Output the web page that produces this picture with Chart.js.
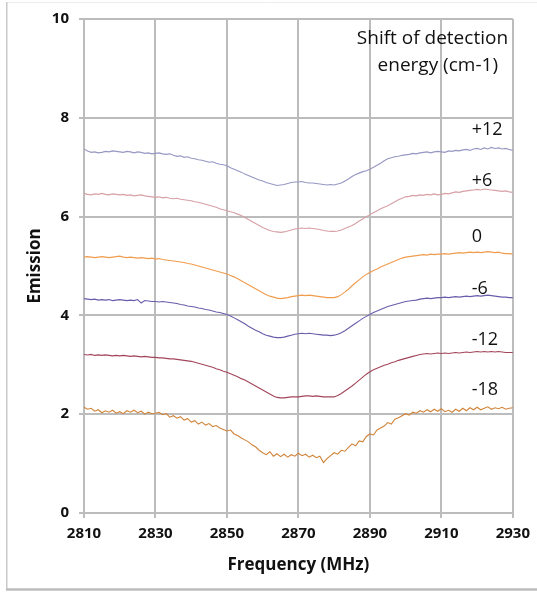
<!DOCTYPE html>
<html>
<head>
<meta charset="utf-8">
<script src="https://cdn.jsdelivr.net/npm/chart.js@4/dist/chart.umd.min.js"></script>
<style>
  html, body { margin: 0; padding: 0; background: #ffffff; }
  canvas { display: block; }
</style>
</head>
<body>
<canvas id="odmr" width="537" height="592"></canvas>
<script>
// Emission spectra vs microwave frequency, one trace per detection-energy shift.
const FREQ_START = 2810;   // MHz, sampled every 1 MHz up to 2930
const FREQ_END = 2930;

const X_TICKS = [2810, 2830, 2850, 2870, 2890, 2910, 2930];
const Y_TICKS = [0, 2, 4, 6, 8, 10];

const SHIFT_LABELS = ['+12', '+6', '0', '-6', '-12', '-18'];

const emissionP12 = [
  7.37, 7.33, 7.30, 7.31, 7.29, 7.30, 7.32, 7.31, 7.33, 7.32,
  7.31, 7.30, 7.32, 7.31, 7.29, 7.31, 7.30, 7.28, 7.29, 7.27,
  7.28, 7.29, 7.27, 7.26, 7.27, 7.24, 7.22, 7.23, 7.20, 7.21,
  7.18, 7.17, 7.15, 7.14, 7.12, 7.10, 7.11, 7.08, 7.06, 7.05,
  7.03, 6.99, 6.96, 6.93, 6.90, 6.86, 6.83, 6.80, 6.77, 6.74,
  6.72, 6.69, 6.67, 6.65, 6.63, 6.64, 6.65, 6.67, 6.69, 6.70,
  6.70, 6.71, 6.69, 6.68, 6.68, 6.67, 6.66, 6.65, 6.64, 6.65,
  6.64, 6.66, 6.68, 6.72, 6.76, 6.81, 6.85, 6.88, 6.91, 6.93,
  6.96, 7.00, 7.04, 7.08, 7.13, 7.17, 7.19, 7.21, 7.22, 7.24,
  7.25, 7.26, 7.28, 7.27, 7.29, 7.30, 7.31, 7.29, 7.31, 7.32,
  7.31, 7.30, 7.33, 7.32, 7.34, 7.33, 7.35, 7.36, 7.34, 7.37,
  7.38, 7.36, 7.39, 7.37, 7.40, 7.38, 7.39, 7.37, 7.38, 7.36,
  7.34
];

const emissionP6 = [
  6.47, 6.45, 6.44, 6.46, 6.45, 6.47, 6.45, 6.44, 6.46, 6.45,
  6.44, 6.45, 6.43, 6.44, 6.42, 6.43, 6.44, 6.42, 6.41, 6.40,
  6.39, 6.40, 6.38, 6.39, 6.37, 6.36, 6.37, 6.35, 6.34, 6.33,
  6.32, 6.30, 6.29, 6.27, 6.25, 6.23, 6.21, 6.19, 6.16, 6.14,
  6.12, 6.10, 6.08, 6.05, 6.02, 5.98, 5.94, 5.90, 5.86, 5.82,
  5.78, 5.75, 5.72, 5.70, 5.69, 5.68, 5.69, 5.71, 5.73, 5.75,
  5.76, 5.77, 5.76, 5.77, 5.76, 5.75, 5.74, 5.72, 5.71, 5.70,
  5.70, 5.71, 5.73, 5.76, 5.79, 5.82, 5.86, 5.91, 5.95, 6.00,
  6.04, 6.08, 6.12, 6.16, 6.19, 6.22, 6.26, 6.30, 6.34, 6.37,
  6.40, 6.41, 6.43, 6.42, 6.44, 6.43, 6.45, 6.44, 6.46, 6.44,
  6.45, 6.47, 6.46, 6.48, 6.50, 6.49, 6.51, 6.52, 6.53, 6.54,
  6.55, 6.54, 6.56, 6.55, 6.54, 6.53, 6.52, 6.51, 6.52, 6.50,
  6.49
];

const emissionZero = [
  5.18, 5.19, 5.18, 5.17, 5.18, 5.19, 5.18, 5.17, 5.18, 5.19,
  5.20, 5.18, 5.17, 5.18, 5.17, 5.16, 5.17, 5.16, 5.15, 5.16,
  5.14, 5.15, 5.13, 5.12, 5.11, 5.10, 5.09, 5.08, 5.07, 5.05,
  5.04, 5.02, 5.00, 4.98, 4.96, 4.94, 4.92, 4.90, 4.88, 4.86,
  4.84, 4.81, 4.78, 4.74, 4.70, 4.66, 4.62, 4.58, 4.54, 4.50,
  4.46, 4.42, 4.39, 4.37, 4.35, 4.34, 4.35, 4.36, 4.38, 4.39,
  4.40, 4.41, 4.40, 4.41, 4.40, 4.39, 4.38, 4.37, 4.36, 4.36,
  4.36, 4.38, 4.42, 4.47, 4.53, 4.60, 4.66, 4.72, 4.78, 4.83,
  4.87, 4.91, 4.94, 4.98, 5.01, 5.04, 5.07, 5.10, 5.13, 5.16,
  5.18, 5.19, 5.20, 5.21, 5.22, 5.23, 5.22, 5.24, 5.23, 5.24,
  5.24, 5.25, 5.24, 5.25, 5.26, 5.27, 5.26, 5.27, 5.28, 5.27,
  5.28, 5.27, 5.28, 5.29, 5.28, 5.27, 5.28, 5.26, 5.25, 5.25,
  5.24
];

const emissionM6 = [
  4.34, 4.33, 4.32, 4.33, 4.31, 4.32, 4.31, 4.32, 4.30, 4.31,
  4.32, 4.31, 4.30, 4.31, 4.30, 4.32, 4.25, 4.30, 4.29, 4.28,
  4.28, 4.27, 4.28, 4.27, 4.26, 4.25, 4.24, 4.22, 4.21, 4.19,
  4.18, 4.17, 4.15, 4.14, 4.12, 4.11, 4.09, 4.07, 4.06, 4.04,
  4.02, 3.99, 3.95, 3.91, 3.87, 3.83, 3.78, 3.74, 3.70, 3.67,
  3.63, 3.60, 3.58, 3.56, 3.55, 3.55, 3.56, 3.58, 3.60, 3.62,
  3.63, 3.64, 3.63, 3.64, 3.63, 3.62, 3.61, 3.60, 3.60, 3.59,
  3.60, 3.62, 3.65, 3.69, 3.74, 3.79, 3.84, 3.89, 3.94, 3.98,
  4.02, 4.06, 4.09, 4.12, 4.15, 4.18, 4.20, 4.22, 4.24, 4.26,
  4.28, 4.29, 4.30, 4.31, 4.33, 4.34, 4.35, 4.34, 4.35, 4.36,
  4.36, 4.37, 4.36, 4.37, 4.38, 4.37, 4.38, 4.39, 4.38, 4.39,
  4.40, 4.39, 4.40, 4.41, 4.40, 4.39, 4.38, 4.37, 4.37, 4.36,
  4.36
];

const emissionM12 = [
  3.21, 3.20, 3.21, 3.19, 3.20, 3.19, 3.20, 3.19, 3.18, 3.19,
  3.18, 3.19, 3.18, 3.17, 3.18, 3.17, 3.16, 3.17, 3.16, 3.15,
  3.15, 3.14, 3.14, 3.13, 3.12, 3.12, 3.11, 3.10, 3.09, 3.08,
  3.07, 3.05, 3.03, 3.01, 2.99, 2.97, 2.95, 2.92, 2.90, 2.87,
  2.85, 2.82, 2.79, 2.76, 2.72, 2.69, 2.65, 2.61, 2.57, 2.53,
  2.49, 2.45, 2.41, 2.37, 2.34, 2.33, 2.33, 2.34, 2.35, 2.35,
  2.35, 2.36, 2.37, 2.37, 2.36, 2.37, 2.36, 2.35, 2.35, 2.35,
  2.35, 2.38, 2.42, 2.47, 2.52, 2.57, 2.63, 2.69, 2.75, 2.81,
  2.86, 2.90, 2.93, 2.96, 2.99, 3.01, 3.04, 3.06, 3.09, 3.11,
  3.13, 3.15, 3.17, 3.19, 3.21, 3.22, 3.23, 3.22, 3.23, 3.24,
  3.23, 3.24, 3.23, 3.24, 3.25, 3.24, 3.25, 3.26, 3.25, 3.26,
  3.27, 3.26, 3.27, 3.26, 3.27, 3.26, 3.27, 3.26, 3.25, 3.25,
  3.25
];

const emissionM18 = [
  2.14, 2.10, 2.12, 2.06, 2.09, 2.03, 2.07, 2.04, 2.08, 2.02,
  2.05, 2.01, 2.07, 2.04, 2.08, 2.03, 2.06, 2.00, 2.04, 2.01,
  2.02, 2.04, 1.99, 2.01, 1.94, 1.97, 1.92, 1.95, 1.88, 1.91,
  1.84, 1.87, 1.80, 1.84, 1.78, 1.81, 1.75, 1.77, 1.72, 1.69,
  1.66, 1.68, 1.60, 1.57, 1.52, 1.48, 1.44, 1.38, 1.34, 1.27,
  1.22, 1.18, 1.24, 1.15, 1.20, 1.14, 1.19, 1.13, 1.18, 1.15,
  1.21, 1.16, 1.19, 1.13, 1.17, 1.12, 1.15, 1.02, 1.10, 1.16,
  1.22, 1.19, 1.27, 1.25, 1.33, 1.40, 1.36, 1.46, 1.44, 1.55,
  1.60, 1.58, 1.68, 1.72, 1.76, 1.83, 1.80, 1.90, 1.93, 1.97,
  2.01, 1.98, 2.04, 2.02, 2.07, 2.04, 2.09, 2.05, 2.10, 2.06,
  2.11, 2.05, 2.08, 2.04, 2.10, 2.06, 2.12, 2.07, 2.13, 2.09,
  2.14, 2.09, 2.12, 2.15, 2.10, 2.13, 2.11, 2.14, 2.10, 2.12,
  2.13
];

// Label anchors in data units (MHz, emission)
const LABEL_FREQ = 2918.5;
const LABEL_EMISSION = [7.75, 6.73, 5.58, 4.54, 3.51, 2.49];
const HEADER_LINES = ['Shift of detection', 'energy (cm-1)'];
const HEADER_ANCHORS = [[2907.5, 9.6], [2909, 9.06]];

const SERIES = [emissionP12, emissionP6, emissionZero, emissionM6, emissionM12, emissionM18];
const COLORS = ['#9797c4', '#d6a0a5', '#f09c4e', '#6b5cab', '#a3455a', '#d0843a'];

const freqs = [];
for (let f = FREQ_START; f <= FREQ_END; f++) freqs.push(f);

const datasets = SERIES.map((vals, i) => ({
  label: SHIFT_LABELS[i],
  data: vals.map((v, k) => ({ x: freqs[k], y: v })),
  borderColor: COLORS[i],
  borderWidth: 1.1,
  pointRadius: 0,
  tension: 0,
  fill: false
}));

const textFont = '"Open Sans", "Liberation Sans", sans-serif';

const frameAndLabels = {
  id: 'frameAndLabels',
  beforeDraw(chart) {
    const ctx = chart.ctx;
    ctx.save();
    ctx.fillStyle = '#ffffff';
    ctx.fillRect(0, 0, chart.width, chart.height);
    // outer frame
    ctx.strokeStyle = '#ececec';
    ctx.lineWidth = 1;
    ctx.beginPath(); ctx.moveTo(6, 2.5); ctx.lineTo(chart.width, 2.5); ctx.stroke();
    ctx.strokeStyle = '#c9c9c9';
    ctx.lineWidth = 1.5;
    ctx.beginPath(); ctx.moveTo(6.75, 2); ctx.lineTo(6.75, 589); ctx.stroke();
    ctx.strokeStyle = '#bdbdbd';
    ctx.lineWidth = 2.5;
    ctx.beginPath(); ctx.moveTo(6, 589.5); ctx.lineTo(chart.width, 589.5); ctx.stroke();
    ctx.restore();
  },
  afterDatasetsDraw(chart) {
    const ctx = chart.ctx;
    const xs = chart.scales.x, ys = chart.scales.y;
    ctx.save();
    ctx.fillStyle = '#111111';
    ctx.font = '19px ' + textFont;
    ctx.textBaseline = 'middle';
    ctx.textAlign = 'center';
    HEADER_LINES.forEach((t, i) => {
      ctx.fillText(t, xs.getPixelForValue(HEADER_ANCHORS[i][0]), ys.getPixelForValue(HEADER_ANCHORS[i][1]));
    });
    ctx.font = '18px ' + textFont;
    ctx.textAlign = 'left';
    SHIFT_LABELS.forEach((t, i) => {
      ctx.fillText(t, xs.getPixelForValue(LABEL_FREQ), ys.getPixelForValue(LABEL_EMISSION[i]));
    });
    ctx.restore();
  }
};

const gridStyle = {
  color: '#bcbcbc',
  lineWidth: 2,
  tickLength: 5,
  drawTicks: true
};

new Chart(document.getElementById('odmr'), {
  type: 'line',
  data: { datasets },
  options: {
    responsive: false,
    animation: false,
    devicePixelRatio: 1,
    layout: { padding: { top: 15, right: 21, left: 0, bottom: 0 } },
    plugins: { legend: { display: false }, tooltip: { enabled: false } },
    scales: {
      x: {
        type: 'linear',
        min: FREQ_START,
        max: FREQ_END,
        afterBuildTicks(scale) { scale.ticks = X_TICKS.map(v => ({ value: v })); },
        afterFit(scale) { scale.height = 79; },
        grid: gridStyle,
        border: { color: '#bcbcbc', width: 2 },
        ticks: {
          color: '#111111',
          padding: 7,
          maxRotation: 0,
          autoSkip: false,
          callback: (v) => String(v),
          font: { family: textFont, size: 15, weight: 'bold' }
        },
        title: {
          display: true,
          text: 'Frequency (MHz)',
          color: '#111111',
          padding: { top: 0, bottom: 17 },
          font: { family: textFont, size: 17, weight: 'bold' }
        }
      },
      y: {
        min: 0,
        max: 10,
        afterBuildTicks(scale) { scale.ticks = Y_TICKS.map(v => ({ value: v })); },
        afterFit(scale) { scale.width = 84; },
        grid: gridStyle,
        border: { color: '#bcbcbc', width: 2 },
        ticks: {
          color: '#111111',
          padding: 10,
          callback: (v) => String(v),
          font: { family: textFont, size: 15, weight: 'bold' }
        },
        title: {
          display: true,
          text: 'Emission',
          color: '#111111',
          padding: { top: 25, bottom: 0 },
          font: { family: textFont, size: 17, weight: 'bold' }
        }
      }
    }
  },
  plugins: [frameAndLabels]
});
</script>
</body>
</html>
